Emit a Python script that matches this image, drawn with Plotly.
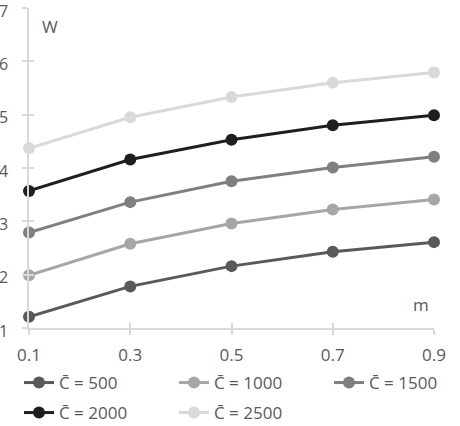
import plotly.graph_objects as go

m_vals = [0.1, 0.3, 0.5, 0.7, 0.9]
names = ["C̄ = 500", "C̄ = 1000", "C̄ = 1500", "C̄ = 2000", "C̄ = 2500"]
w_500 = [1.21, 1.78, 2.16, 2.43, 2.61]
w_1000 = [1.99, 2.58, 2.96, 3.22, 3.41]
w_1500 = [2.79, 3.36, 3.75, 4.01, 4.21]
w_2000 = [3.57, 4.16, 4.53, 4.80, 4.99]
w_2500 = [4.37, 4.95, 5.33, 5.60, 5.79]
series = [w_500, w_1000, w_1500, w_2000, w_2500]
colors = ["#595959", "#a6a6a6", "#7f7f7f", "#1e1e1e", "#d9d9d9"]

# legend slot positions (pixel centre of marker, row centre)
leg_pos = [(40, 383), (195, 383), (350, 383), (40, 413), (195, 413)]

FONT = "Open Sans"
TXT = "#595959"
FS = 17

W, H = 460, 426
L, R, T, B = 29, 26, 8, 98

fig = go.Figure()
layout_legends = {}
for i, (name, ys, c) in enumerate(zip(names, series, colors)):
    lg = "legend" if i == 0 else f"legend{i + 1}"
    fig.add_trace(go.Scatter(
        x=m_vals, y=ys, name=name, mode="lines+markers",
        line=dict(color=c, width=3),
        marker=dict(color=c, size=12),
        cliponaxis=False, legend=lg,
    ))
    px, py = leg_pos[i]
    layout_legends[lg] = dict(orientation="h", xref="container", yref="container",
                              x=(px - 21) / W, y=1 - py / H, xanchor="left", yanchor="middle",
                              bgcolor="rgba(0,0,0,0)",
                              font=dict(family=FONT, size=FS, color=TXT))

axis_common = dict(showgrid=False, zeroline=False, showline=True, automargin=False,
                   linecolor="#d9d9d9", linewidth=1.5,
                   ticks="outside", ticklen=5, tickcolor="#d9d9d9", tickwidth=1.5,
                   ticklabeloverflow="allow")

fig.update_layout(
    width=W, height=H,
    margin=dict(l=L, r=R, t=T, b=B, autoexpand=False),
    paper_bgcolor="white", plot_bgcolor="white",
    font=dict(family=FONT, color=TXT),
    xaxis=dict(range=[0.1, 0.9], tickvals=m_vals, ticktext=["0.1", "0.3", "0.5", "0.7", "0.9"],
               ticklabelstandoff=6, tickfont=dict(family=FONT, size=FS, color=TXT), **axis_common),
    yaxis=dict(range=[1, 7], tickvals=[1, 2, 3, 4, 5, 6, 7], ticklabelstandoff=11, ticklabelshift=3,
               tickfont=dict(family=FONT, size=16, color=TXT), **axis_common),
    xaxis2=dict(overlaying="x", range=[0.1, 0.9], tickvals=m_vals, showticklabels=False,
                ticks="inside", ticklen=5, tickcolor="#d9d9d9", tickwidth=1.5, automargin=False,
                showgrid=False, zeroline=False, showline=False),
    yaxis2=dict(overlaying="y", range=[1, 7], tickvals=[1, 2, 3, 4, 5, 6, 7], showticklabels=False,
                ticks="inside", ticklen=5, tickcolor="#d9d9d9", tickwidth=1.5, automargin=False,
                showgrid=False, zeroline=False, showline=False),
    annotations=[
        dict(text="W", xref="paper", yref="paper", x=(50 - L) / (W - L - R), y=(H - B - 26) / (H - B - T),
             xanchor="center", yanchor="middle",
             showarrow=False, font=dict(family=FONT, size=FS, color=TXT)),
        dict(text="m", xref="paper", yref="paper", x=(421 - L) / (W - L - R), y=(H - B - 304) / (H - B - T),
             xanchor="center", yanchor="middle",
             showarrow=False, font=dict(family=FONT, size=FS, color=TXT)),
    ],
    **layout_legends,
)
# dummy trace to activate overlay axes for inside tick marks
fig.add_trace(go.Scatter(x=[None], y=[None], xaxis="x2", yaxis="y2", showlegend=False, hoverinfo="skip"))

fig.write_html("out.html")
